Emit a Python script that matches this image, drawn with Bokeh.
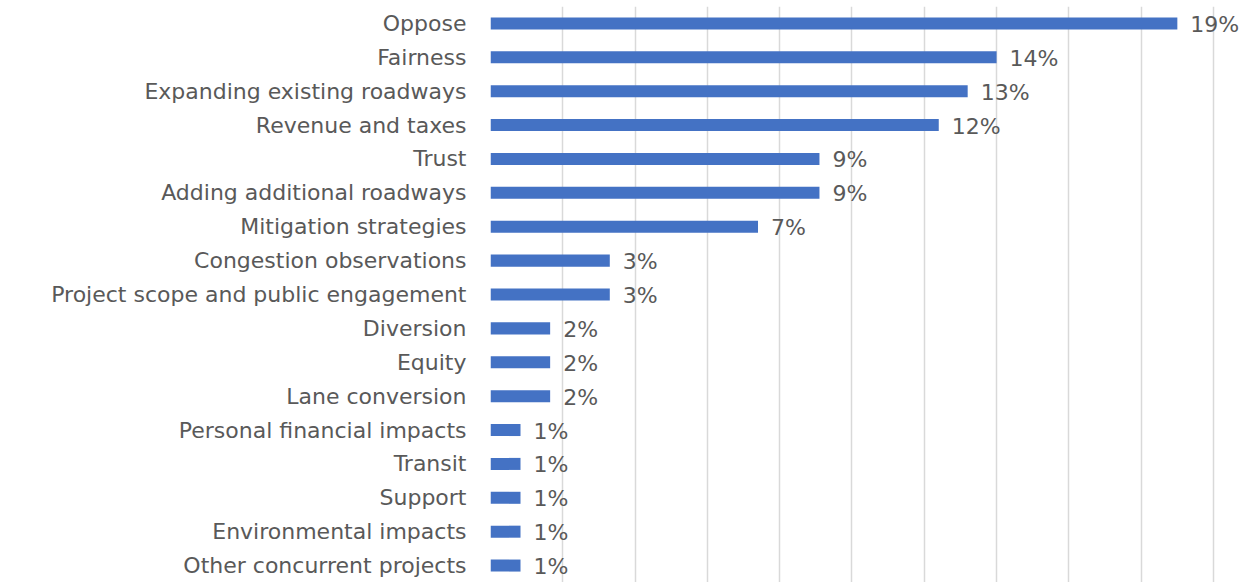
from bokeh.plotting import figure
from bokeh.models import Range1d, FactorRange, SingleIntervalTicker, ColumnDataSource
from bokeh.core.properties import value
from bokeh.embed import file_html
from bokeh.resources import INLINE

categories = [
    "Oppose", "Fairness", "Expanding existing roadways", "Revenue and taxes",
    "Trust", "Adding additional roadways", "Mitigation strategies",
    "Congestion observations", "Project scope and public engagement",
    "Diversion", "Equity", "Lane conversion", "Personal financial impacts",
    "Transit", "Support", "Environmental impacts", "Other concurrent projects",
]
shares = [19.0, 14.0, 13.2, 12.4, 9.1, 9.1, 7.4, 3.3, 3.3,
          1.65, 1.65, 1.65, 0.83, 0.83, 0.83, 0.83, 0.83]
labels = ["19%", "14%", "13%", "12%", "9%", "9%", "7%", "3%", "3%",
          "2%", "2%", "2%", "1%", "1%", "1%", "1%", "1%"]

FONT = "DejaVu Sans"
TEXT_COLOR = "#595959"

src = ColumnDataSource(dict(cat=categories, val=shares, lab=labels))

# frame: x from 490 to 1243 (753 px, 36.15 px per percent point)
p = figure(
    y_range=FactorRange(factors=list(reversed(categories))),
    x_range=Range1d(0, 20.83),
    width=1243, height=582,
    output_backend="svg", toolbar_location=None,
    min_border_left=490, min_border_right=0,
    min_border_top=6, min_border_bottom=0,
)
p.outline_line_color = None
p.background_fill_color = "white"
p.border_fill_color = "white"

p.hbar(y="cat", left=0, right="val", height=0.355, source=src,
       fill_color="#4472C4", line_color=None)

p.text(x="val", y="cat", text="lab", source=src, x_offset=13, y_offset=1,
       text_baseline="middle", text_align="left",
       text_font=value(FONT), text_font_size="22px", text_color=TEXT_COLOR)

p.xaxis.visible = False
p.xgrid.ticker = SingleIntervalTicker(interval=2)
p.xgrid.bounds = (0, 20)
p.xgrid.grid_line_color = "#d9d9d9"
p.xgrid.grid_line_width = 1.5
p.ygrid.grid_line_color = None

p.yaxis.axis_line_color = None
p.yaxis.major_tick_line_color = None
p.yaxis.minor_tick_line_color = None
p.yaxis.major_label_standoff = 18
p.yaxis.major_label_text_font = FONT
p.yaxis.major_label_text_font_size = "22px"
p.yaxis.major_label_text_color = TEXT_COLOR

open("out.html", "w").write(file_html(p, INLINE))
